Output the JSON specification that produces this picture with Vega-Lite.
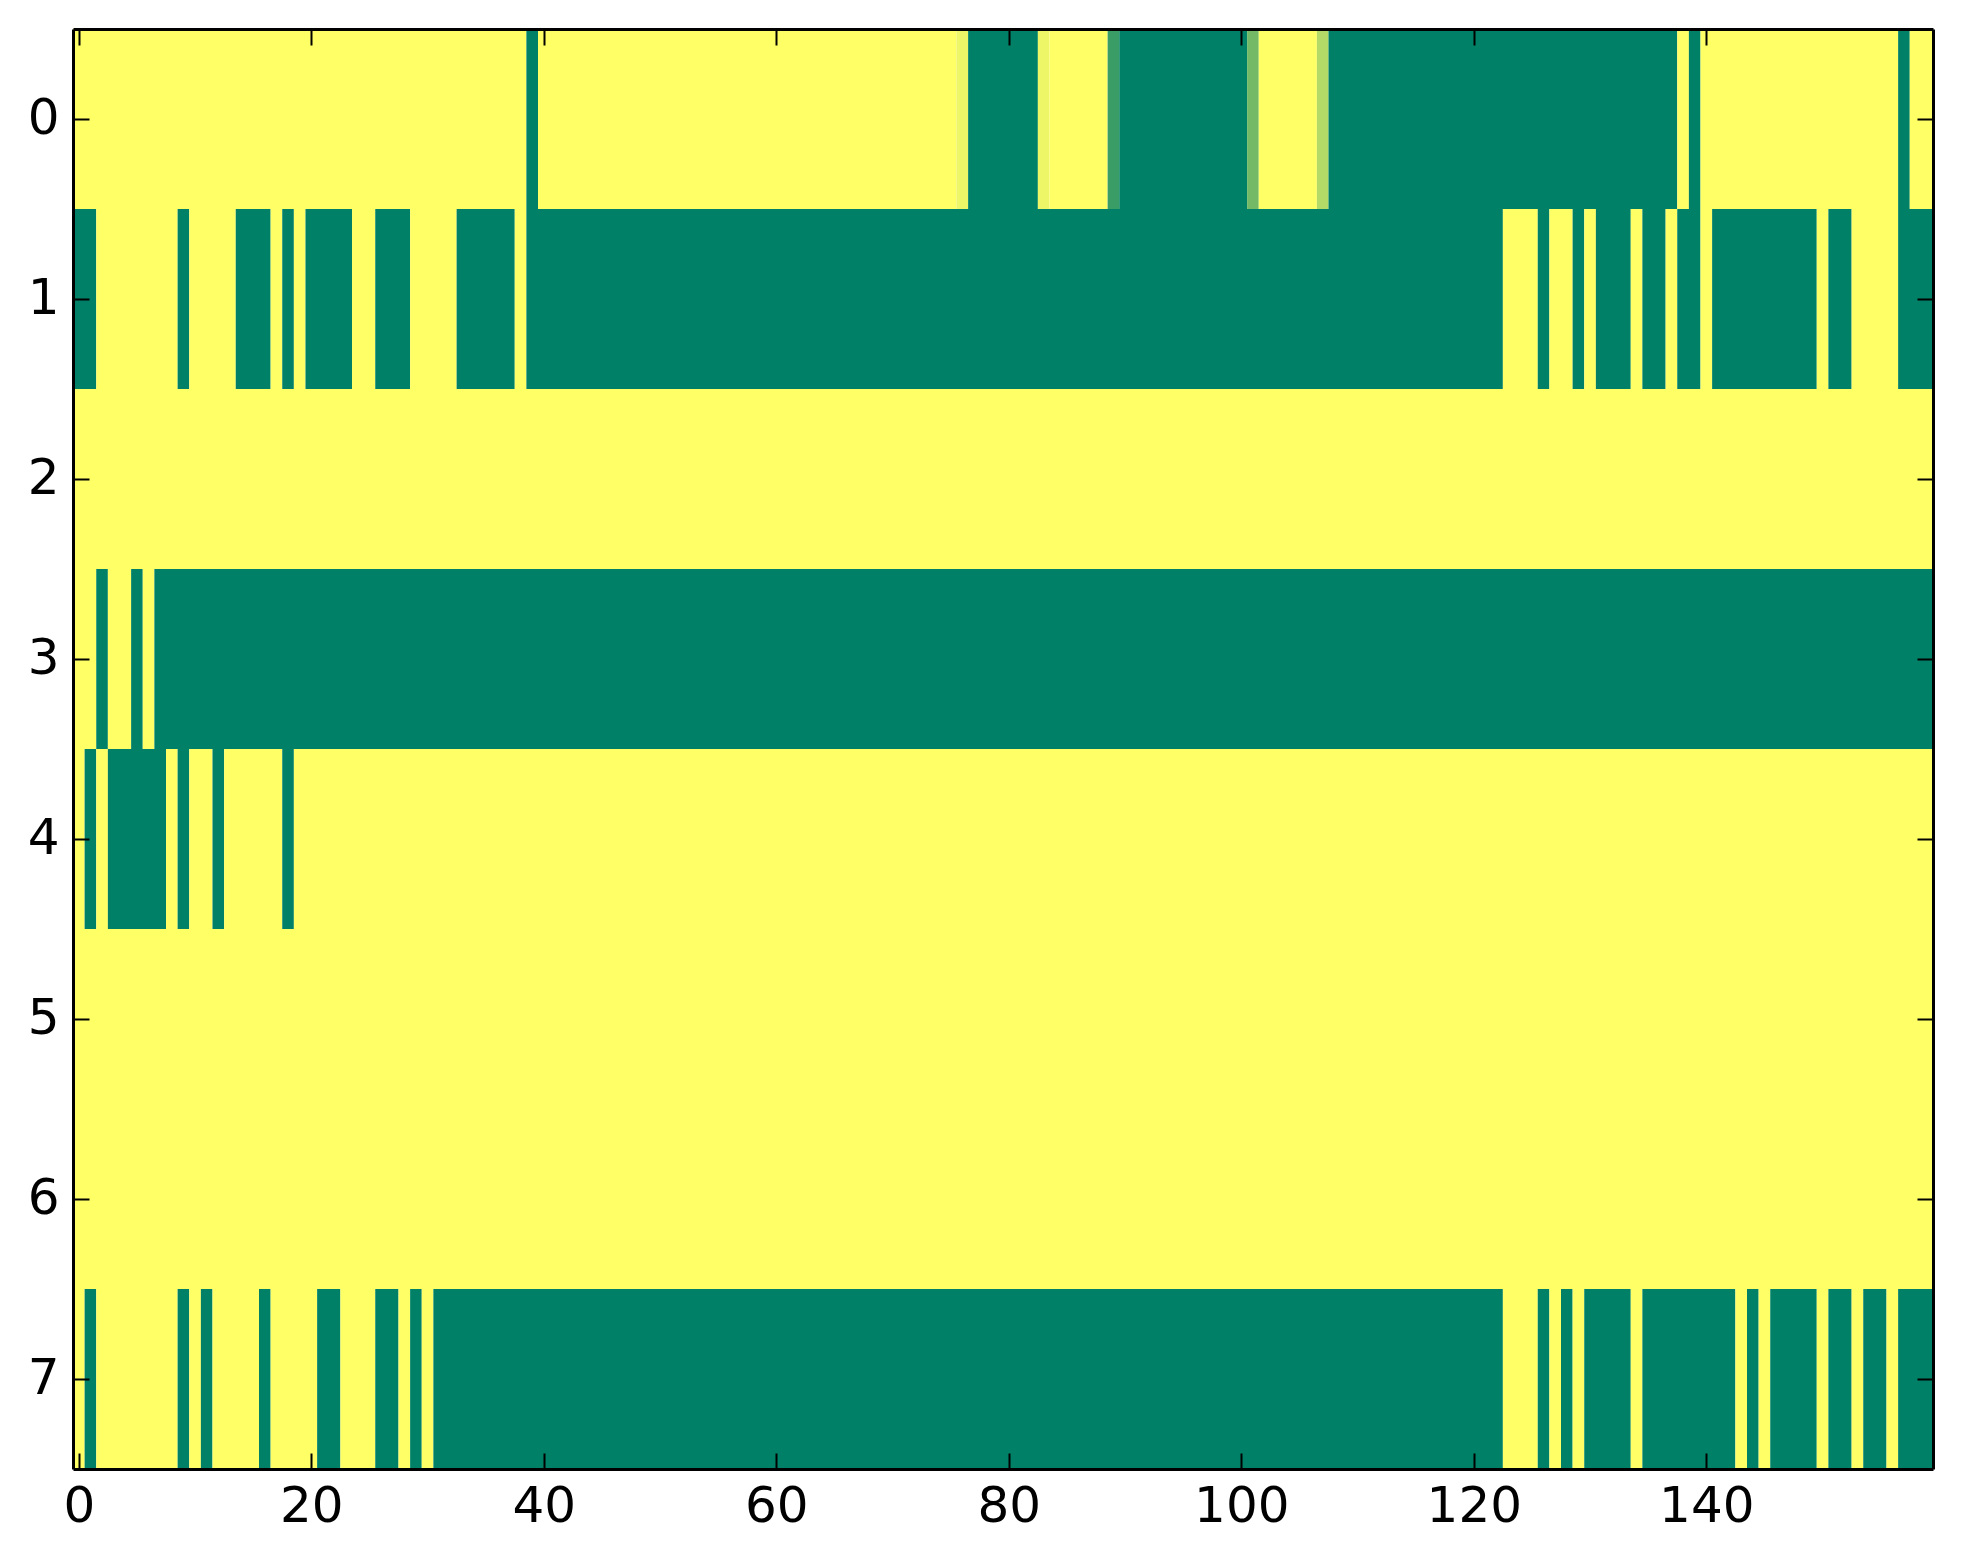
{
  "$schema": "https://vega.github.io/schema/vega-lite/v6.json",
  "description": "Heat map of an 8 x 160 matrix drawn with the summer colour map, one rect per run of equal cells.",
  "width": 1860,
  "height": 1440,
  "autosize": {"type": "none"},
  "padding": {"left": 73, "top": 29, "right": 30, "bottom": 95},
  "background": "white",
  "config": {
    "view": {"stroke": null},
    "font": "DejaVu Sans",
    "axis": {
      "labelFont": "DejaVu Sans",
      "labelFontSize": 50,
      "labelColor": "black",
      "domainColor": "black",
      "domainWidth": 3,
      "tickColor": "black",
      "tickWidth": 2,
      "tickSize": -16,
      "grid": false,
      "title": null
    }
  },
  "data": {
    "values": [
      {"row": 0, "start": -0.5, "end": 38.5, "value": 1},
      {"row": 0, "start": 38.5, "end": 39.5, "value": 0},
      {"row": 0, "start": 39.5, "end": 75.5, "value": 1},
      {"row": 0, "start": 75.5, "end": 76.5, "value": 0.93},
      {"row": 0, "start": 76.5, "end": 82.5, "value": 0},
      {"row": 0, "start": 82.5, "end": 83.5, "value": 0.93},
      {"row": 0, "start": 83.5, "end": 88.5, "value": 1},
      {"row": 0, "start": 88.5, "end": 89.5, "value": 0.23},
      {"row": 0, "start": 89.5, "end": 100.5, "value": 0},
      {"row": 0, "start": 100.5, "end": 101.5, "value": 0.45},
      {"row": 0, "start": 101.5, "end": 106.5, "value": 1},
      {"row": 0, "start": 106.5, "end": 107.5, "value": 0.7},
      {"row": 0, "start": 107.5, "end": 137.5, "value": 0},
      {"row": 0, "start": 137.5, "end": 138.5, "value": 1},
      {"row": 0, "start": 138.5, "end": 139.5, "value": 0},
      {"row": 0, "start": 139.5, "end": 156.5, "value": 1},
      {"row": 0, "start": 156.5, "end": 157.5, "value": 0},
      {"row": 0, "start": 157.5, "end": 159.5, "value": 1},

      {"row": 1, "start": -0.5, "end": 1.5, "value": 0},
      {"row": 1, "start": 1.5, "end": 8.5, "value": 1},
      {"row": 1, "start": 8.5, "end": 9.5, "value": 0},
      {"row": 1, "start": 9.5, "end": 13.5, "value": 1},
      {"row": 1, "start": 13.5, "end": 16.5, "value": 0},
      {"row": 1, "start": 16.5, "end": 17.5, "value": 1},
      {"row": 1, "start": 17.5, "end": 18.5, "value": 0},
      {"row": 1, "start": 18.5, "end": 19.5, "value": 1},
      {"row": 1, "start": 19.5, "end": 23.5, "value": 0},
      {"row": 1, "start": 23.5, "end": 25.5, "value": 1},
      {"row": 1, "start": 25.5, "end": 28.5, "value": 0},
      {"row": 1, "start": 28.5, "end": 32.5, "value": 1},
      {"row": 1, "start": 32.5, "end": 37.5, "value": 0},
      {"row": 1, "start": 37.5, "end": 38.5, "value": 1},
      {"row": 1, "start": 38.5, "end": 122.5, "value": 0},
      {"row": 1, "start": 122.5, "end": 125.5, "value": 1},
      {"row": 1, "start": 125.5, "end": 126.5, "value": 0},
      {"row": 1, "start": 126.5, "end": 128.5, "value": 1},
      {"row": 1, "start": 128.5, "end": 129.5, "value": 0},
      {"row": 1, "start": 129.5, "end": 130.5, "value": 1},
      {"row": 1, "start": 130.5, "end": 133.5, "value": 0},
      {"row": 1, "start": 133.5, "end": 134.5, "value": 1},
      {"row": 1, "start": 134.5, "end": 136.5, "value": 0},
      {"row": 1, "start": 136.5, "end": 137.5, "value": 1},
      {"row": 1, "start": 137.5, "end": 139.5, "value": 0},
      {"row": 1, "start": 139.5, "end": 140.5, "value": 1},
      {"row": 1, "start": 140.5, "end": 149.5, "value": 0},
      {"row": 1, "start": 149.5, "end": 150.5, "value": 1},
      {"row": 1, "start": 150.5, "end": 152.5, "value": 0},
      {"row": 1, "start": 152.5, "end": 156.5, "value": 1},
      {"row": 1, "start": 156.5, "end": 159.5, "value": 0},

      {"row": 2, "start": -0.5, "end": 159.5, "value": 1},

      {"row": 3, "start": -0.5, "end": 1.5, "value": 1},
      {"row": 3, "start": 1.5, "end": 2.5, "value": 0},
      {"row": 3, "start": 2.5, "end": 4.5, "value": 1},
      {"row": 3, "start": 4.5, "end": 5.5, "value": 0},
      {"row": 3, "start": 5.5, "end": 6.5, "value": 1},
      {"row": 3, "start": 6.5, "end": 159.5, "value": 0},

      {"row": 4, "start": -0.5, "end": 0.5, "value": 1},
      {"row": 4, "start": 0.5, "end": 1.5, "value": 0},
      {"row": 4, "start": 1.5, "end": 2.5, "value": 1},
      {"row": 4, "start": 2.5, "end": 7.5, "value": 0},
      {"row": 4, "start": 7.5, "end": 8.5, "value": 1},
      {"row": 4, "start": 8.5, "end": 9.5, "value": 0},
      {"row": 4, "start": 9.5, "end": 11.5, "value": 1},
      {"row": 4, "start": 11.5, "end": 12.5, "value": 0},
      {"row": 4, "start": 12.5, "end": 17.5, "value": 1},
      {"row": 4, "start": 17.5, "end": 18.5, "value": 0},
      {"row": 4, "start": 18.5, "end": 159.5, "value": 1},

      {"row": 5, "start": -0.5, "end": 159.5, "value": 1},
      {"row": 6, "start": -0.5, "end": 159.5, "value": 1},

      {"row": 7, "start": -0.5, "end": 0.5, "value": 1},
      {"row": 7, "start": 0.5, "end": 1.5, "value": 0},
      {"row": 7, "start": 1.5, "end": 8.5, "value": 1},
      {"row": 7, "start": 8.5, "end": 9.5, "value": 0},
      {"row": 7, "start": 9.5, "end": 10.5, "value": 1},
      {"row": 7, "start": 10.5, "end": 11.5, "value": 0},
      {"row": 7, "start": 11.5, "end": 15.5, "value": 1},
      {"row": 7, "start": 15.5, "end": 16.5, "value": 0},
      {"row": 7, "start": 16.5, "end": 20.5, "value": 1},
      {"row": 7, "start": 20.5, "end": 22.5, "value": 0},
      {"row": 7, "start": 22.5, "end": 25.5, "value": 1},
      {"row": 7, "start": 25.5, "end": 27.5, "value": 0},
      {"row": 7, "start": 27.5, "end": 28.5, "value": 1},
      {"row": 7, "start": 28.5, "end": 29.5, "value": 0},
      {"row": 7, "start": 29.5, "end": 30.5, "value": 1},
      {"row": 7, "start": 30.5, "end": 122.5, "value": 0},
      {"row": 7, "start": 122.5, "end": 125.5, "value": 1},
      {"row": 7, "start": 125.5, "end": 126.5, "value": 0},
      {"row": 7, "start": 126.5, "end": 127.5, "value": 1},
      {"row": 7, "start": 127.5, "end": 128.5, "value": 0},
      {"row": 7, "start": 128.5, "end": 129.5, "value": 1},
      {"row": 7, "start": 129.5, "end": 133.5, "value": 0},
      {"row": 7, "start": 133.5, "end": 134.5, "value": 1},
      {"row": 7, "start": 134.5, "end": 142.5, "value": 0},
      {"row": 7, "start": 142.5, "end": 143.5, "value": 1},
      {"row": 7, "start": 143.5, "end": 144.5, "value": 0},
      {"row": 7, "start": 144.5, "end": 145.5, "value": 1},
      {"row": 7, "start": 145.5, "end": 149.5, "value": 0},
      {"row": 7, "start": 149.5, "end": 150.5, "value": 1},
      {"row": 7, "start": 150.5, "end": 152.5, "value": 0},
      {"row": 7, "start": 152.5, "end": 153.5, "value": 1},
      {"row": 7, "start": 153.5, "end": 155.5, "value": 0},
      {"row": 7, "start": 155.5, "end": 156.5, "value": 1},
      {"row": 7, "start": 156.5, "end": 159.5, "value": 0}
    ]
  },
  "layer": [
    {
      "mark": {"type": "rect", "strokeWidth": 0},
      "encoding": {
        "x": {"field": "start", "type": "quantitative",
          "scale": {"domain": [-0.5, 159.5], "nice": false, "zero": false},
          "axis": {"orient": "bottom", "values": [0, 20, 40, 60, 80, 100, 120, 140], "labelPadding": 28, "labelFlush": false, "zindex": 1}},
        "x2": {"field": "end"},
        "y": {"field": "row", "type": "ordinal",
          "scale": {"domain": [0, 1, 2, 3, 4, 5, 6, 7], "paddingInner": 0, "paddingOuter": 0},
          "axis": {"orient": "left", "labelAngle": 0, "labelPadding": 30, "zindex": 1}},
        "color": {"field": "value", "type": "quantitative",
          "scale": {"domain": [0, 1], "range": ["#008066", "#ffff66"], "interpolate": "rgb"},
          "legend": null}
      }
    },
    {
      "mark": {"type": "rect", "opacity": 0},
      "encoding": {
        "x": {"field": "start", "type": "quantitative",
          "axis": {"orient": "top", "values": [0, 20, 40, 60, 80, 100, 120, 140], "labels": false, "zindex": 1}},
        "x2": {"field": "end"},
        "y": {"field": "row", "type": "ordinal",
          "axis": {"orient": "right", "labels": false, "zindex": 1}}
      }
    }
  ],
  "resolve": {"axis": {"x": "independent", "y": "independent"}}
}
